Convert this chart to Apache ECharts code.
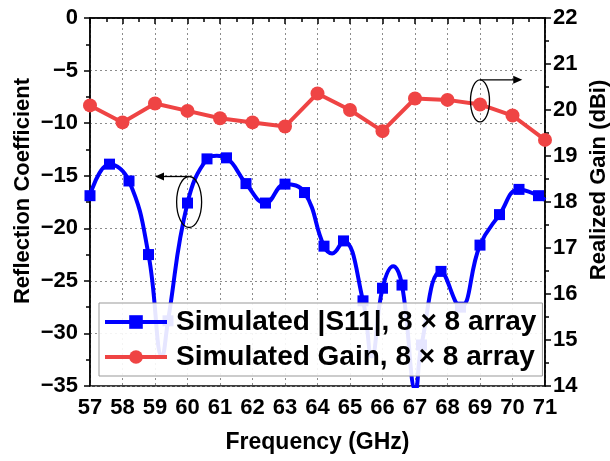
<!DOCTYPE html>
<html>
<head>
<meta charset="utf-8">
<script src="https://cdn.jsdelivr.net/npm/echarts@6/dist/echarts.min.js"></script>
<style>
  html, body { margin: 0; padding: 0; background: #fff; }
  #chart { width: 610px; height: 461px; }
</style>
</head>
<body>
<div id="chart"></div>
<script>
// Simulated |S11| of the 8 x 8 array: marked samples every 0.6 GHz
const s11Freq = [57.0, 57.6, 58.2, 58.8, 59.4, 60.0, 60.6, 61.2, 61.8, 62.4, 63.0, 63.6,
                 64.2, 64.8, 65.4, 66.0, 66.6, 67.2, 67.8, 68.4, 69.0, 69.6, 70.2, 70.8];
const s11Vals = [-16.9, -13.9, -15.5, -22.5, -28.8, -17.6, -13.4, -13.3, -15.75, -17.6, -15.8, -16.6,
                 -21.7, -21.2, -26.9, -25.7, -25.4, -31.1, -24.1, -27.5, -21.6, -18.7, -16.3, -16.9];
// Resonance dips, peaks and band edge between the marked samples (drawn without markers)
const s11ExtraFreq = [59.22, 60.9, 64.45, 65.67, 66.33, 67.02, 71.0];
const s11ExtraVals = [-32.2, -13.1, -22.4, -32.2, -23.6, -35.4, -17.3];

// Simulated realized gain (dBi)
const gainFreq = [57, 58, 59, 60, 61, 62, 63, 64, 65, 66, 67, 68, 69, 70, 71];
const gainVals = [20.10, 19.73, 20.14, 19.98, 19.82, 19.73, 19.64, 20.36, 20.00, 19.54, 20.25, 20.22, 20.12, 19.88, 19.35];

// Axis ranges
const freqMin = 57, freqMax = 71;
const rcMin = -35, rcMax = 0;
const gainMin = 14, gainMax = 22;

const seriesNames = ['Simulated |S11|, 8 \u00d7 8 array', 'Simulated Gain, 8 \u00d7 8 array'];

const FONT = '"Liberation Sans", Arial, Helvetica, sans-serif';
const BLUE = '#0000ff';
const RED = '#ef4444';

// merge marked and unmarked S11 points into one frequency-ordered list
const s11Data = s11Freq.map((f, i) => ({ value: [f, s11Vals[i]] }))
  .concat(s11ExtraFreq.map((f, i) => ({ value: [f, s11ExtraVals[i]], symbol: 'none' })))
  .sort((a, b) => a.value[0] - b.value[0]);
const gainData = gainFreq.map((f, i) => [f, gainVals[i]]);

const minus = v => String(v).replace('-', '\u2212');

const tickStyle = { color: '#000', width: 1.5 };
const labelStyle = { color: '#000', fontFamily: FONT, fontWeight: 'bold', fontSize: 22 };
const gridDots = { color: '#8c8c8c', type: [2, 3], width: 1 };

const chart = echarts.init(document.getElementById('chart'), null, { renderer: 'canvas' });

chart.setOption({
  animation: false,
  backgroundColor: '#fff',
  grid: { left: 90, right: 65, top: 18, bottom: 75, show: true, borderColor: '#000', borderWidth: 1.5, backgroundColor: 'transparent' },
  xAxis: {
    type: 'value', min: freqMin, max: freqMax, interval: 1,
    name: 'Frequency (GHz)', nameLocation: 'middle', nameGap: 45,
    nameTextStyle: { color: '#000', fontFamily: FONT, fontWeight: 'bold', fontSize: 23 },
    axisLine: { lineStyle: { color: '#000', width: 1.5 } },
    axisTick: { inside: false, length: 6, lineStyle: tickStyle },
    minorTick: { show: true, splitNumber: 2, length: 4, lineStyle: tickStyle },
    axisLabel: Object.assign({ margin: 11 }, labelStyle),
    splitLine: { show: true, lineStyle: gridDots }
  },
  yAxis: [{
    type: 'value', min: rcMin, max: rcMax, interval: 5, position: 'left',
    axisLine: { show: true, lineStyle: { color: '#000', width: 1.5 } },
    axisTick: { show: true, inside: false, length: 6, lineStyle: tickStyle },
    minorTick: { show: true, splitNumber: 2, length: 4, lineStyle: tickStyle },
    axisLabel: Object.assign({ margin: 12, formatter: minus }, labelStyle),
    splitLine: { show: true, lineStyle: gridDots }
  }, {
    type: 'value', min: gainMin, max: gainMax, interval: 1, position: 'right',
    axisLine: { show: true, lineStyle: { color: '#000', width: 1.5 } },
    axisTick: { show: true, inside: false, length: 6, lineStyle: tickStyle },
    minorTick: { show: true, splitNumber: 2, length: 4, lineStyle: tickStyle },
    axisLabel: Object.assign({ margin: 8 }, labelStyle),
    splitLine: { show: false }
  }],
  legend: {
    orient: 'vertical', left: 99, top: 303,
    padding: [4, 6, 4, 4], itemGap: 5,
    itemWidth: 62, itemHeight: 17,
    borderColor: '#999', borderWidth: 1,
    backgroundColor: 'rgba(255,255,255,0.9)',
    lineStyle: { width: 4 },
    textStyle: { color: '#000', fontFamily: FONT, fontWeight: 'bold', fontSize: 28, lineHeight: 30, padding: [0, 0, 0, 4] },
    data: seriesNames
  },
  series: [{
    name: seriesNames[0], type: 'line', yAxisIndex: 0,
    data: s11Data, smooth: 0.45,
    symbol: 'rect', symbolSize: 11,
    lineStyle: { color: BLUE, width: 4 },
    itemStyle: { color: BLUE },
    z: 3
  }, {
    name: seriesNames[1], type: 'line', yAxisIndex: 1,
    data: gainData, smooth: false,
    symbol: 'circle', symbolSize: 14,
    lineStyle: { color: RED, width: 4 },
    itemStyle: { color: RED },
    z: 3
  }]
});

// Annotation ellipses with arrows pointing to the axis each curve belongs to
function annotations() {
  const pL = chart.convertToPixel({ xAxisIndex: 0, yAxisIndex: 0 }, [60.05, -17.5]);
  const tipL = chart.convertToPixel({ xAxisIndex: 0, yAxisIndex: 0 }, [59.0, -17.5]);
  const pR = chart.convertToPixel({ xAxisIndex: 0, yAxisIndex: 1 }, [69.0, 20.2]);
  const tipR = chart.convertToPixel({ xAxisIndex: 0, yAxisIndex: 1 }, [70.3, 20.2]);
  const rxL = 12.5, ryL = 25.5, rxR = 9.5, ryR = 21;
  const yL = pL[1] - ryL, yR = pR[1] - ryR;
  const stroke = { stroke: '#000', lineWidth: 1.3, fill: null };
  return [
    { type: 'ellipse', shape: { cx: pL[0], cy: pL[1], rx: rxL, ry: ryL }, style: stroke, z: 10 },
    { type: 'line', shape: { x1: pL[0], y1: yL, x2: tipL[0] + 7, y2: yL }, style: stroke, z: 10 },
    { type: 'polygon', shape: { points: [[tipL[0], yL], [tipL[0] + 9, yL - 4], [tipL[0] + 9, yL + 4]] }, style: { fill: '#000' }, z: 10 },
    { type: 'ellipse', shape: { cx: pR[0], cy: pR[1], rx: rxR, ry: ryR }, style: stroke, z: 10 },
    { type: 'line', shape: { x1: pR[0], y1: yR, x2: tipR[0] - 7, y2: yR }, style: stroke, z: 10 },
    { type: 'polygon', shape: { points: [[tipR[0], yR], [tipR[0] - 9, yR - 4], [tipR[0] - 9, yR + 4]] }, style: { fill: '#000' }, z: 10 },
    { type: 'text', x: 23, y: 191, rotation: Math.PI / 2,
      style: { text: 'Reflection Coefficient', fill: '#000', font: 'bold 22px ' + FONT, align: 'center', verticalAlign: 'middle' } },
    { type: 'text', x: 599, y: 180, rotation: Math.PI / 2,
      style: { text: 'Realized Gain (dBi)', fill: '#000', font: 'bold 22px ' + FONT, align: 'center', verticalAlign: 'middle' } }
  ];
}
chart.setOption({ graphic: annotations() });
</script>
</body>
</html>
